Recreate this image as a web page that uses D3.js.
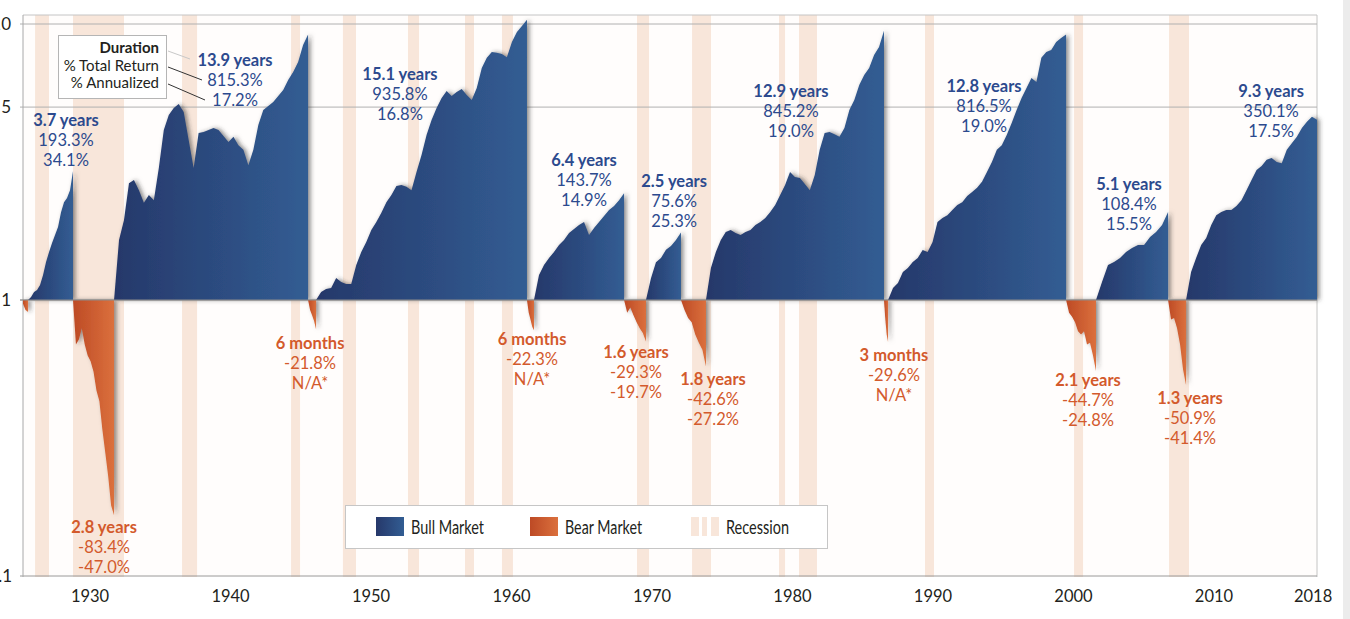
<!DOCTYPE html>
<html><head><meta charset="utf-8">
<script src="https://cdn.jsdelivr.net/npm/d3@7"></script>
<style>
body{margin:0;background:#fff;}
svg{display:block;font-family:Lato,"Open Sans",sans-serif;}
</style>
</head><body>
<svg id="chart" width="1350" height="619"></svg>
<script>
// ---------------- DATA ----------------
const yearTicks = [1930, 1940, 1950, 1960, 1970, 1980, 1990, 2000, 2010, 2017.05];
const yearTickLabels = ["1930", "1940", "1950", "1960", "1970", "1980", "1990", "2000", "2010", "2018"];
const valueTicks = [0.1, 1, 5, 10];
const valueTickLabels = ["0.1", "1", "5", "10"];

// market phase boundaries (decimal years on the chart's axis)
const marketBreaks = [1925.23, 1925.59, 1928.79, 1931.71, 1945.52, 1946.09, 1961.10, 1961.60,
  1968.01, 1969.57, 1972.06, 1973.84, 1986.51, 1986.80, 1999.47, 2001.60, 2006.73, 2008.01, 2017.33];
const marketType = ["bear", "bull", "bear", "bull", "bear", "bull", "bear", "bull", "bear",
  "bull", "bear", "bull", "bear", "bull", "bear", "bull", "bear", "bull"];
// growth of $1 within each phase, evenly spaced in time over the phase
const marketValues = [
  [0.97, 0.92, 0.905],
  [1.0, 1.025, 1.069, 1.087, 1.133, 1.232, 1.373, 1.493, 1.609, 1.72, 1.84, 2.08, 2.26, 2.34, 2.50, 2.933],
  [1.0, 0.69, 0.72, 0.79, 0.69, 0.63, 0.60, 0.55, 0.47, 0.43, 0.34, 0.28, 0.23, 0.18, 0.166],
  [1.0, 1.65, 1.95, 2.65, 2.72, 2.50, 2.25, 2.40, 2.30, 3.01, 4.13, 4.68, 4.96, 5.13, 4.80, 3.80, 3.01,
   4.03, 4.06, 4.13, 4.20, 4.13, 3.93, 3.74, 3.90, 3.64, 3.50, 3.08, 3.50, 4.31, 4.88, 5.05, 5.22, 5.48,
   5.77, 6.27, 6.70, 7.28, 8.39, 9.153],
  [1.0, 0.92, 0.88, 0.84, 0.782],
  [1.0, 1.069, 1.096, 1.105, 1.201, 1.162, 1.143, 1.143, 1.339, 1.493, 1.622, 1.793, 1.917, 2.07, 2.26,
   2.40, 2.59, 2.61, 2.57, 2.50, 2.91, 3.35, 3.96, 4.49, 4.96, 5.39, 5.72, 5.48, 5.67, 5.81, 5.53, 5.30,
   5.86, 6.93, 7.54, 7.92, 7.86, 7.79, 7.58, 8.60, 9.35, 9.84, 10.358],
  [1.0, 0.90, 0.85, 0.80, 0.777],
  [1.0, 1.232, 1.339, 1.419, 1.493, 1.582, 1.65, 1.749, 1.808, 1.869, 1.917, 1.72, 1.823, 1.917, 2.016,
   2.12, 2.19, 2.30, 2.437],
  [1.0, 0.90, 0.94, 0.88, 0.83, 0.79, 0.76, 0.707],
  [1.0, 1.20, 1.37, 1.42, 1.52, 1.57, 1.65, 1.756],
  [1.0, 0.92, 0.86, 0.83, 0.75, 0.70, 0.66, 0.574],
  [1.0, 1.306, 1.493, 1.65, 1.764, 1.793, 1.749, 1.720, 1.764, 1.793, 1.869, 1.917, 1.982, 2.085, 2.21,
   2.40, 2.61, 2.91, 2.79, 2.77, 2.63, 2.50, 2.84, 3.50, 4.03, 4.06, 3.99, 3.90, 4.20, 4.88, 5.30, 6.01,
   6.53, 6.93, 7.72, 8.25, 9.452],
  [1.0, 0.85, 0.75, 0.704],
  [1.0, 1.105, 1.152, 1.263, 1.306, 1.373, 1.419, 1.518, 1.493, 1.622, 1.917, 1.982, 2.03, 2.12, 2.21,
   2.26, 2.38, 2.46, 2.55, 2.68, 2.91, 3.16, 3.50, 3.64, 3.96, 4.38, 4.88, 5.39, 5.86, 6.37, 6.17, 7.54,
   7.92, 8.05, 8.60, 8.89, 9.165],
  [1.0, 0.90, 0.87, 0.83, 0.77, 0.75, 0.77, 0.69, 0.70, 0.63, 0.553],
  [1.0, 1.162, 1.339, 1.373, 1.419, 1.493, 1.544, 1.582, 1.582, 1.69, 1.764, 1.869, 2.084],
  [1.0, 0.85, 0.86, 0.79, 0.69, 0.56, 0.491],
  [1.0, 1.263, 1.419, 1.582, 1.677, 1.869, 2.03, 2.085, 2.12, 2.12, 2.19, 2.30, 2.50, 2.72, 2.96, 3.06,
   3.22, 3.27, 3.16, 3.13, 3.50, 3.70, 3.90, 4.20, 4.42, 4.61, 4.501]
];
const labelDuration = ["", "3.7 years", "2.8 years", "13.9 years", "6 months", "15.1 years", "6 months",
  "6.4 years", "1.6 years", "2.5 years", "1.8 years", "12.9 years", "3 months", "12.8 years", "2.1 years",
  "5.1 years", "1.3 years", "9.3 years"];
const labelTotal = ["", "193.3%", "-83.4%", "815.3%", "-21.8%", "935.8%", "-22.3%", "143.7%", "-29.3%",
  "75.6%", "-42.6%", "845.2%", "-29.6%", "816.5%", "-44.7%", "108.4%", "-50.9%", "350.1%"];
const labelAnnual = ["", "34.1%", "-47.0%", "17.2%", "N/A*", "16.8%", "N/A*", "14.9%", "-19.7%",
  "25.3%", "-27.2%", "19.0%", "N/A*", "19.0%", "-24.8%", "15.5%", "-41.4%", "17.5%"];

const recessionStart = [1926.09, 1928.79, 1936.55, 1944.31, 1948.00, 1952.63, 1956.69, 1959.32,
  1968.93, 1972.85, 1979.04, 1980.46, 1989.43, 2000.04, 2006.80];
const recessionEnd = [1927.08, 1932.42, 1937.62, 1944.95, 1948.93, 1953.42, 1957.33, 1960.10,
  1969.79, 1974.20, 1979.47, 1981.74, 1990.07, 2000.68, 2008.22];

const keyLines = ["Duration", "% Total Return", "% Annualized"];
const legendItems = ["Bull Market", "Bear Market", "Recession"];

// ---------------- LAYOUT ----------------
const plot = {left: 23, right: 1317, top: 15, bottom: 577};
// annotation anchors: [year, value] of the first text line baseline (centre)
const annotationAnchor = [null, [1928.29, 4.27], [1931.0, 0.143], [1940.32, 7.04], [1945.66, 0.665],
  [1952.06, 6.27], [1961.46, 0.687], [1965.16, 3.06], [1968.86, 0.617], [1971.57, 2.57],
  [1974.34, 0.492], [1979.89, 5.44], [1987.22, 0.601], [1993.63, 5.67], [2001.03, 0.488],
  [2003.95, 2.50], [2008.29, 0.420], [2014.06, 5.44]];

const BULL_TXT = "#2c4a8e", BEAR_TXT = "#d35a2c", REC = "#f8e6da";

const svg = d3.select("#chart");
const x = d3.scaleLinear().domain([marketBreaks[0], marketBreaks[marketBreaks.length - 1]]).range([plot.left, plot.right]);
const y = d3.scaleLog().domain([0.1, 10]).range([576, 24]);

// defs: gradients + shadow
const defs = svg.append("defs");
function grad(id, c0, c1) {
  const g = defs.append("linearGradient").attr("id", id).attr("x1", 0).attr("x2", 1).attr("y1", 0).attr("y2", 0);
  g.append("stop").attr("offset", "0%").attr("stop-color", c0);
  g.append("stop").attr("offset", "100%").attr("stop-color", c1);
}
grad("gBull", "#26386a", "#325d93");
grad("gBear", "#bd4a25", "#db703d");
const f = defs.append("filter").attr("id", "shadow").attr("x", "-5%").attr("y", "-5%").attr("width", "120%").attr("height", "120%");
f.append("feDropShadow").attr("dx", 2.5).attr("dy", 0).attr("stdDeviation", 2).attr("flood-color", "#333").attr("flood-opacity", 0.55);

// right grey strip
svg.append("rect").attr("x", 1343).attr("y", 0).attr("width", 7).attr("height", 619).attr("fill", "#ececec");

// plot background
svg.append("rect").attr("x", plot.left).attr("y", plot.top).attr("width", plot.right - plot.left)
  .attr("height", plot.bottom - plot.top).attr("fill", "#fffdfc");

// recessions
svg.append("g").selectAll("rect").data(recessionStart).join("rect")
  .attr("x", (d) => x(d)).attr("width", (d, i) => x(recessionEnd[i]) - x(d))
  .attr("y", plot.top).attr("height", plot.bottom - plot.top).attr("fill", REC);

// frame + gridlines
svg.append("path").attr("d", `M${plot.left},${plot.top}H${plot.right}V${plot.bottom}`)
  .attr("fill", "none").attr("stroke", "#c4c4c4").attr("stroke-width", 1);
svg.append("g").selectAll("line").data(valueTicks).join("line")
  .attr("x1", plot.left - 3).attr("x2", plot.right).attr("y1", (d) => y(d)).attr("y2", (d) => y(d))
  .attr("stroke", (d) => d === 0.1 ? "#9a9a9a" : "#b0b0b0").attr("stroke-width", 1);
svg.append("line").attr("x1", plot.left).attr("x2", plot.left).attr("y1", plot.top).attr("y2", plot.bottom)
  .attr("stroke", "#a8a8a8");

// market areas
const area = d3.area().x((d) => x(d[0])).y0(y(1)).y1((d) => y(d[1]));
const gAreas = svg.append("g").attr("filter", "url(#shadow)");
marketValues.forEach((vals, i) => {
  const t0 = marketBreaks[i], t1 = marketBreaks[i + 1];
  const pts = vals.map((v, j) => [t0 + (t1 - t0) * j / (vals.length - 1), v]);
  pts.push([t1, 1]);
  gAreas.append("path").datum(pts).attr("d", area)
    .attr("fill", marketType[i] === "bull" ? "url(#gBull)" : "url(#gBear)");
});
// baseline
svg.append("line").attr("x1", plot.left - 3).attr("x2", plot.right).attr("y1", y(1)).attr("y2", y(1))
  .attr("stroke", "#8c8c8c").attr("stroke-width", 1);

// axes labels
svg.append("g").selectAll("text").data(yearTicks).join("text")
  .attr("x", (d) => x(d)).attr("y", 602).attr("text-anchor", "middle")
  .attr("font-size", 16.5).attr("fill", "#231f20").text((d, i) => yearTickLabels[i]);
svg.append("g").selectAll("text").data(valueTicks).join("text")
  .attr("x", (d) => d < 1 ? 12 : 11).attr("y", (d) => y(d) + 6).attr("text-anchor", "end")
  .attr("font-size", 17).attr("fill", "#231f20").text((d, i) => valueTickLabels[i]);

// annotations
const gAnn = svg.append("g").attr("text-anchor", "middle").attr("font-size", 16.5);
labelDuration.forEach((lab, i) => {
  if (!lab) return;
  const [ax, ay] = annotationAnchor[i];
  const col = marketType[i] === "bull" ? BULL_TXT : BEAR_TXT;
  const t = gAnn.append("text").attr("fill", col);
  const px = x(ax), py = y(ay);
  t.append("tspan").attr("x", px).attr("y", py).attr("font-weight", 700).text(lab);
  t.append("tspan").attr("x", px).attr("y", py + 20).text(labelTotal[i]);
  t.append("tspan").attr("x", px).attr("y", py + 40).text(labelAnnual[i]);
});

// key box
const kb = svg.append("g");
kb.append("rect").attr("x", 58.5).attr("y", 35.5).attr("width", 108).attr("height", 63)
  .attr("fill", "#fff").attr("stroke", "#b5b5b5");
keyLines.forEach((s, i) => {
  kb.append("text").attr("x", 159).attr("y", 53 + i * 17.5).attr("text-anchor", "end")
    .attr("font-size", 15).attr("font-weight", i === 0 ? 700 : 400).attr("fill", "#231f20").text(s);
});
kb.append("line").attr("x1", 168).attr("y1", 51).attr("x2", 190).attr("y2", 59).attr("stroke", "#c8c8c8");
kb.append("line").attr("x1", 168).attr("y1", 67).attr("x2", 202).attr("y2", 80).attr("stroke", "#333");
kb.append("line").attr("x1", 168).attr("y1", 84).attr("x2", 205).attr("y2", 100).attr("stroke", "#333");

// legend
const lg = svg.append("g");
lg.append("rect").attr("x", 345.5).attr("y", 505.5).attr("width", 482).attr("height", 43)
  .attr("fill", "#fff").attr("stroke", "#c6c6c6");
const legX = [376, 530, 691];
const legTextW = [73, 77, 63];
legendItems.forEach((s, i) => {
  if (i < 2) {
    lg.append("rect").attr("x", legX[i]).attr("y", 517).attr("width", 28).attr("height", 19)
      .attr("fill", i === 0 ? "url(#gBull)" : "url(#gBear)");
  } else {
    [[0, 8], [11, 5], [20, 8]].forEach(([o, w]) => lg.append("rect").attr("x", legX[i] + o).attr("y", 517)
      .attr("width", w).attr("height", 19).attr("fill", REC));
  }
  lg.append("text").attr("x", legX[i] + 35).attr("y", 533.5).attr("font-size", 18.5)
    .attr("textLength", legTextW[i]).attr("lengthAdjust", "spacingAndGlyphs")
    .attr("fill", "#231f20").text(s);
});
</script>
</body></html>
